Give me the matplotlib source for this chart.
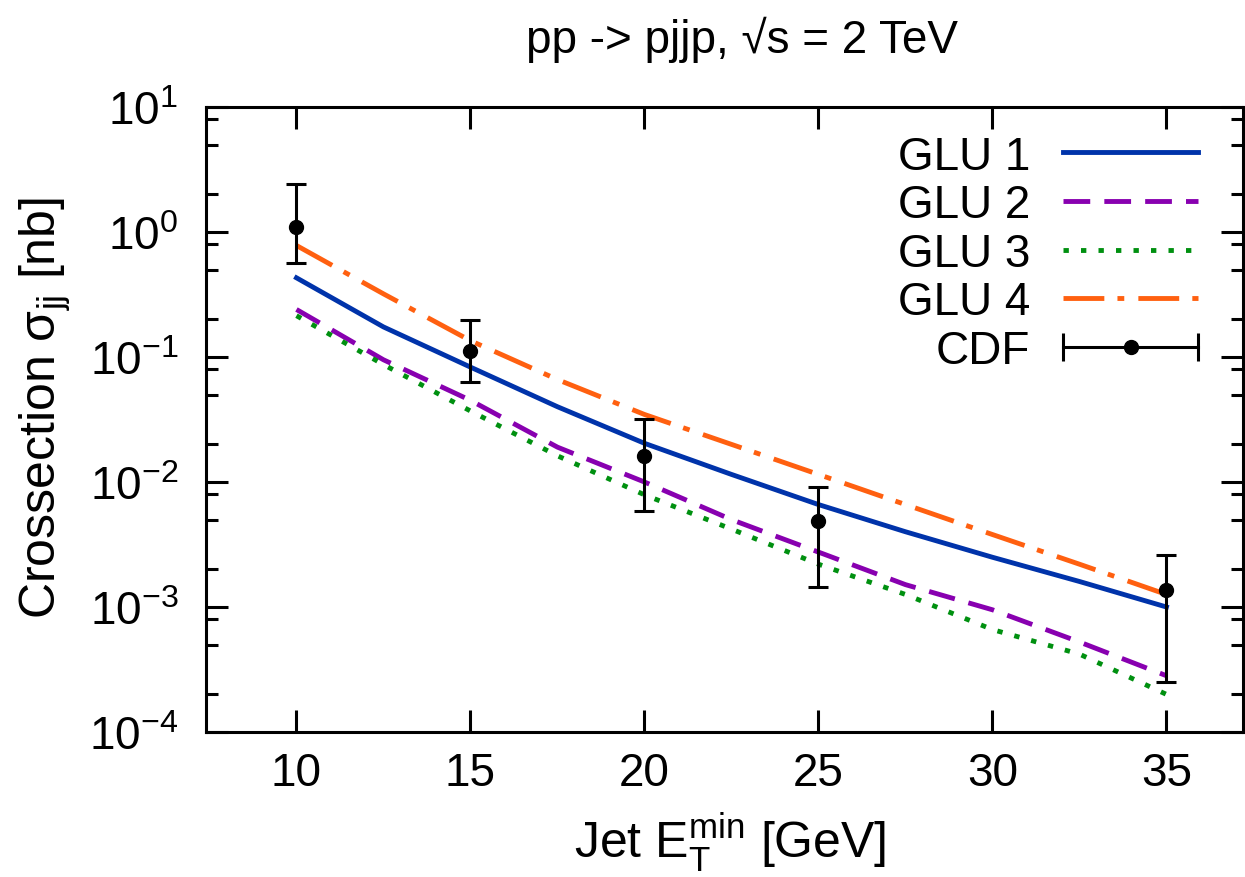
import numpy as np
import matplotlib
matplotlib.use("Agg")
from matplotlib import pyplot as plt
from matplotlib.lines import Line2D
from matplotlib.legend_handler import HandlerLine2D, HandlerTuple
from matplotlib.ticker import LogLocator, NullFormatter, FixedLocator

plt.rcParams["font.family"] = ["Liberation Sans", "DejaVu Sans"]
plt.rcParams["mathtext.fontset"] = "custom"
plt.rcParams["mathtext.rm"] = "Liberation Sans"
plt.rcParams["mathtext.it"] = "Liberation Sans:italic"
plt.rcParams["mathtext.bf"] = "Liberation Sans:bold"

# jet E_T^min [GeV]
et_min = [10, 12.5, 15, 17.5, 20, 22.5, 25, 27.5, 30, 32.5, 35]

# cross sections [nb]
glu1 = [0.43, 0.174, 0.083, 0.040, 0.0204, 0.0115, 0.0066, 0.0040, 0.0025, 0.00160, 0.00100]
glu2 = [0.24, 0.095, 0.045, 0.019, 0.0100, 0.0050, 0.00275, 0.00151, 0.00095, 0.000525, 0.000282]
glu3 = [0.214, 0.087, 0.037, 0.0162, 0.0079, 0.0042, 0.0022, 0.00126, 0.00066, 0.00042, 0.0002]
glu4 = [0.78, 0.32, 0.135, 0.066, 0.0347, 0.020, 0.0115, 0.0066, 0.0038, 0.0022, 0.00126]

# CDF data
cdf_x = [10, 15, 20, 25, 35]
cdf_y = [1.1, 0.112, 0.0161, 0.0049, 0.00137]
cdf_lo = [0.565, 0.063, 0.0059, 0.00145, 0.00025]
cdf_hi = [2.4, 0.198, 0.032, 0.0091, 0.0026]

fs = 33
fs_label = 36
lw = 3.5

fig = plt.figure(figsize=(12.45, 8.78), dpi=100)
ax = fig.add_axes([206 / 1245, 1 - 733 / 878, (1243 - 206) / 1245, (733 - 108) / 878])

l1, = ax.plot(et_min, glu1, color="#0033aa", lw=lw, label="GLU 1")
l2, = ax.plot(et_min, glu2, color="#8800b0", lw=lw, dashes=(5.5, 2.9), label="GLU 2")
l3, = ax.plot(et_min, glu3, color="#009010", lw=lw, dashes=(1.1, 2.5), label="GLU 3")
l4, = ax.plot(et_min, glu4, color="#ff6010", lw=lw, dashes=(8.4, 2.7, 1.4, 2.9), label="GLU 4")

yerr = [np.array(cdf_y) - np.array(cdf_lo), np.array(cdf_hi) - np.array(cdf_y)]
ax.errorbar(cdf_x, cdf_y, yerr=yerr, fmt="o", color="black", ms=10,
            elinewidth=2.2, capsize=7.5, capthick=2.2, zorder=5)

ax.set_yscale("log")
ax.set_xlim(7.4, 37.2)
ax.set_ylim(1e-4, 1e1)
ax.xaxis.set_major_locator(FixedLocator([10, 15, 20, 25, 30, 35]))
ax.yaxis.set_minor_locator(LogLocator(base=10, subs=[2, 5, 8], numticks=20))
ax.yaxis.set_minor_formatter(NullFormatter())
ax.set_yticks([10.0 ** k for k in range(-4, 2)])
ax.set_yticklabels(["10$^{%d}$" % k for k in range(-4, 2)])

ax.tick_params(which="both", direction="in", top=True, right=True, width=2.2, labelsize=fs)
ax.tick_params(which="major", length=16)
ax.tick_params(which="minor", length=8.6)
ax.tick_params(axis="x", pad=14)
ax.tick_params(axis="y", pad=20)
for sp in ax.spines.values():
    sp.set_linewidth(2.2)

# legend, CDF entry drawn as horizontal bar with caps and a dot
caps = Line2D([], [], color="black", lw=2.2, marker="|", ms=20, mew=2.2)
dot = Line2D([], [], ls="none", marker="o", color="black", ms=10)
leg = ax.legend([l1, l2, l3, l4, (caps, dot)], ["GLU 1", "GLU 2", "GLU 3", "GLU 4", "CDF"],
                handler_map={caps: HandlerLine2D(numpoints=2, marker_pad=0),
                             dot: HandlerLine2D(numpoints=1),
                             tuple: HandlerTuple(ndivide=1, pad=0)},
                markerfirst=False, frameon=False, fontsize=fs, loc="upper right",
                bbox_to_anchor=(0.957, 0.956), borderaxespad=0, borderpad=0,
                handlelength=2.95, handletextpad=0.72, labelspacing=0.1)

fig.text(742 / 1245, 1 - 40 / 878, "pp -> pjjp, \u221as = 2 TeV", fontsize=fs,
         ha="center", va="center")
fig.text(45 / 1245, 1 - 408 / 878, "Crossection \u03c3$_{\\mathrm{jj}}$ [nb]", fontsize=fs_label,
         rotation=90, ha="center", va="center")
fig.text(730 / 1245, 1 - 843 / 878, "Jet E$_{\\mathrm{T}}^{\\mathrm{min}}$ [GeV]", fontsize=fs_label,
         ha="center", va="center")

fig.savefig("out.png", dpi=100)
